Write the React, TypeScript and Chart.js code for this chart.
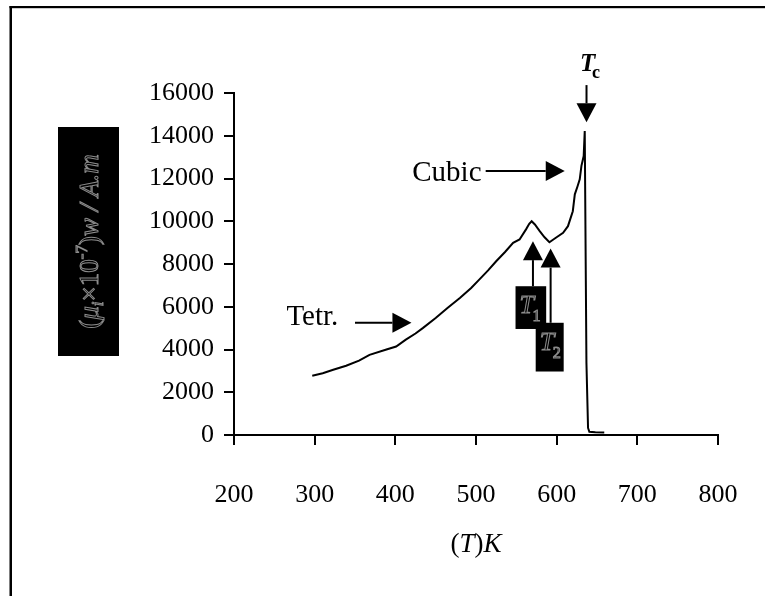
import React, { useEffect, useRef } from "react";
import { Chart, registerables } from "chart.js";

Chart.register(...registerables);

// ---- data ----
const temperatureK = [
  297, 310, 323, 339, 355, 368, 388, 401, 413, 425, 434, 450, 465, 480, 494, 504,
  515, 525, 536, 546, 554, 562, 566, 569, 573, 579, 585, 591, 599, 608, 614, 620,
  622.5, 626, 628.6, 630.7, 633.5, 634.8, 636.9, 638.9, 640.5, 648, 659,
];
const permeability = [
  2770, 2890, 3050, 3240, 3480, 3750, 3990, 4140, 4460, 4750, 5000, 5470, 5950, 6410, 6880, 7270,
  7700, 8130, 8560, 8990, 9150, 9620, 9880, 10000, 9850, 9540, 9250, 9020, 9230, 9460, 9770, 10470,
  11260, 11650, 11960, 12590, 13050, 14220, 3380, 330, 150, 130, 120,
];
const xTickValues = [200, 300, 400, 500, 600, 700, 800];
const yTickValues = [0, 2000, 4000, 6000, 8000, 10000, 12000, 14000, 16000];

// annotations in data coordinates (T in K, value)
const arrowTetr = { from: [350, 5250], to: [420, 5250] };
const arrowCubic = { from: [512, 12350], to: [610, 12350] };
const arrowTc = { from: [637, 16370], to: [637, 14630] };
const arrowT1 = { from: [570.6, 6960], to: [570.6, 9070] };
const arrowT2 = { from: [592.5, 5250], to: [592.5, 8720] };
const boxT1 = { x0: 549, x1: 587, y0: 6960, y1: 4960, sub: "1" };
const boxT2 = { x0: 574, x1: 608.7, y0: 5250, y1: 2970, sub: "2" };
const labelTetr = { text: "Tetr.", at: [265, 5160] };
const labelCubic = { text: "Cubic", at: [421, 11880] };
const labelTc = { at: [629, 17050] };

const SERIF = "'Liberation Serif', 'Times New Roman', serif";

function drawArrow(ctx: CanvasRenderingContext2D, x1: number, y1: number, x2: number, y2: number) {
  const head = 19;
  const half = 10;
  const ang = Math.atan2(y2 - y1, x2 - x1);
  const bx = x2 - head * Math.cos(ang);
  const by = y2 - head * Math.sin(ang);
  ctx.strokeStyle = "#000";
  ctx.fillStyle = "#000";
  ctx.lineWidth = 2;
  ctx.beginPath();
  ctx.moveTo(x1, y1);
  ctx.lineTo(bx, by);
  ctx.stroke();
  ctx.beginPath();
  ctx.moveTo(x2, y2);
  ctx.lineTo(bx - half * Math.sin(ang), by + half * Math.cos(ang));
  ctx.lineTo(bx + half * Math.sin(ang), by - half * Math.cos(ang));
  ctx.closePath();
  ctx.fill();
}

const zeroPad = (s: any) => {
  s.paddingLeft = 0;
  s.paddingRight = 0;
  s.paddingTop = 0;
  s.paddingBottom = 0;
};

const decorPlugin = {
  id: "decor",
  beforeDraw(chart: any) {
    const ctx = chart.ctx as CanvasRenderingContext2D;
    ctx.save();
    ctx.fillStyle = "#fff";
    ctx.fillRect(0, 0, chart.width, chart.height);
    ctx.restore();
  },
  afterDraw(chart: any) {
    const ctx = chart.ctx as CanvasRenderingContext2D;
    const xs = chart.scales.x;
    const ys = chart.scales.y;
    const P = (p: number[]) => [xs.getPixelForValue(p[0]), ys.getPixelForValue(p[1])];
    ctx.save();

    // outer frame (open on right and bottom)
    ctx.fillStyle = "#000";
    ctx.fillRect(9.5, 6, chart.width, 2.2);
    ctx.fillRect(9.5, 6, 2.5, chart.height);

    // arrows
    for (const a of [arrowTetr, arrowCubic, arrowTc, arrowT1, arrowT2]) {
      const [x1, y1] = P(a.from);
      const [x2, y2] = P(a.to);
      drawArrow(ctx, x1, y1, x2, y2);
    }

    // T1 / T2 boxes
    for (const b of [boxT1, boxT2]) {
      const [bx0, by0] = P([b.x0, b.y0]);
      const [bx1, by1] = P([b.x1, b.y1]);
      ctx.fillStyle = "#000";
      ctx.fillRect(bx0, by0, bx1 - bx0, by1 - by0);
      ctx.strokeStyle = "#8c8c8c";
      ctx.lineWidth = 1;
      ctx.textBaseline = "alphabetic";
      ctx.textAlign = "left";
      ctx.font = `italic 26px ${SERIF}`;
      ctx.strokeText("T", bx0 + 4, by0 + 27);
      ctx.font = `16px ${SERIF}`;
      ctx.strokeText(b.sub, bx0 + 17, by0 + 35);
    }

    // texts
    ctx.fillStyle = "#000";
    ctx.textAlign = "left";
    ctx.textBaseline = "alphabetic";
    ctx.font = `29px ${SERIF}`;
    {
      const [x, y] = P(labelTetr.at);
      ctx.fillText(labelTetr.text, x, y);
    }
    {
      const [x, y] = P(labelCubic.at);
      ctx.fillText(labelCubic.text, x, y);
    }
    {
      const [x, y] = P(labelTc.at);
      ctx.font = `bold italic 25px ${SERIF}`;
      ctx.fillText("T", x, y);
      ctx.font = `bold 18px ${SERIF}`;
      ctx.fillText("c", x + 12, y + 7);
    }

    // x axis title: (T)K with italic letters
    {
      const parts = [
        { t: "(", f: `27px ${SERIF}` },
        { t: "T", f: `italic 27px ${SERIF}` },
        { t: ")", f: `27px ${SERIF}` },
        { t: "K", f: `italic 27px ${SERIF}` },
      ];
      let total = 0;
      for (const p of parts) {
        ctx.font = p.f;
        total += ctx.measureText(p.t).width;
      }
      let x = (chart.chartArea.left + chart.chartArea.right) / 2 - total / 2;
      const y = 552;
      ctx.fillStyle = "#000";
      for (const p of parts) {
        ctx.font = p.f;
        ctx.fillText(p.t, x, y);
        x += ctx.measureText(p.t).width;
      }
    }

    // y axis title: black box with outlined rotated text
    {
      const bx0 = 58, bx1 = 119, by0 = 127, by1 = 356;
      ctx.fillStyle = "#000";
      ctx.fillRect(bx0, by0, bx1 - bx0, by1 - by0);
      const parts = [
        { t: "(", f: `27px ${SERIF}`, dy: 0 },
        { t: "μ", f: `italic 27px ${SERIF}`, dy: 0 },
        { t: "i", f: `italic 17px ${SERIF}`, dy: 5 },
        { t: "×10", f: `27px ${SERIF}`, dy: 0 },
        { t: "-7", f: `17px ${SERIF}`, dy: -11 },
        { t: ")", f: `27px ${SERIF}`, dy: 0 },
        { t: "w / ", f: `italic 27px ${SERIF}`, dy: 0 },
        { t: "A.m", f: `italic 27px ${SERIF}`, dy: 0 },
      ];
      let total = 0;
      for (const p of parts) {
        ctx.font = p.f;
        total += ctx.measureText(p.t).width;
      }
      ctx.translate((bx0 + bx1) / 2 + 9, (by0 + by1) / 2);
      ctx.rotate(-Math.PI / 2);
      ctx.strokeStyle = "#8c8c8c";
      ctx.lineWidth = 1;
      let x = -total / 2;
      for (const p of parts) {
        ctx.font = p.f;
        ctx.strokeText(p.t, x, p.dy);
        x += ctx.measureText(p.t).width;
      }
    }
    ctx.restore();
  },
};

export default function App() {
  const ref = useRef<HTMLCanvasElement | null>(null);
  useEffect(() => {
    if (!ref.current) return;
    const chart = new Chart(ref.current, {
      type: "scatter",
      data: {
        datasets: [
          {
            data: temperatureK.map((t, i) => ({ x: t, y: permeability[i] })),
            showLine: true,
            borderColor: "#000",
            borderWidth: 2,
            pointRadius: 0,
            tension: 0,
          },
        ],
      },
      options: {
        animation: false,
        responsive: false,
        layout: { padding: { top: 93, right: 47, left: 0, bottom: 0 } },
        plugins: { legend: { display: false }, tooltip: { enabled: false } },
        scales: {
          x: {
            type: "linear",
            min: 200,
            max: 800,
            afterBuildTicks: (s: any) => {
              s.ticks = xTickValues.map((v) => ({ value: v }));
            },
            afterFit: (s: any) => {
              s.height = 161;
              zeroPad(s);
            },
            ticks: {
              color: "#000",
              font: { family: SERIF, size: 26 },
              padding: 35,
              maxRotation: 0,
            },
            grid: {
              display: true,
              drawOnChartArea: false,
              drawTicks: true,
              tickLength: 10,
              color: "#000",
              lineWidth: 2,
            },
            border: { display: true, color: "#000", width: 2 },
          },
          y: {
            type: "linear",
            min: 0,
            max: 16000,
            afterBuildTicks: (s: any) => {
              s.ticks = yTickValues.map((v) => ({ value: v }));
            },
            afterFit: (s: any) => {
              s.width = 234;
              zeroPad(s);
            },
            ticks: {
              color: "#000",
              font: { family: SERIF, size: 26 },
              padding: 10,
              callback: (v: any) => String(v),
            },
            grid: {
              display: true,
              drawOnChartArea: false,
              drawTicks: true,
              tickLength: 10,
              color: "#000",
              lineWidth: 2,
            },
            border: { display: true, color: "#000", width: 2 },
          },
        },
      },
      plugins: [decorPlugin],
    } as any);
    return () => chart.destroy();
  }, []);
  return (
    <div style={{ position: "fixed", left: 0, top: 0, width: 765, height: 596, background: "#fff" }}>
      <canvas ref={ref} width={765} height={596} style={{ width: 765, height: 596, display: "block" }} />
    </div>
  );
}
